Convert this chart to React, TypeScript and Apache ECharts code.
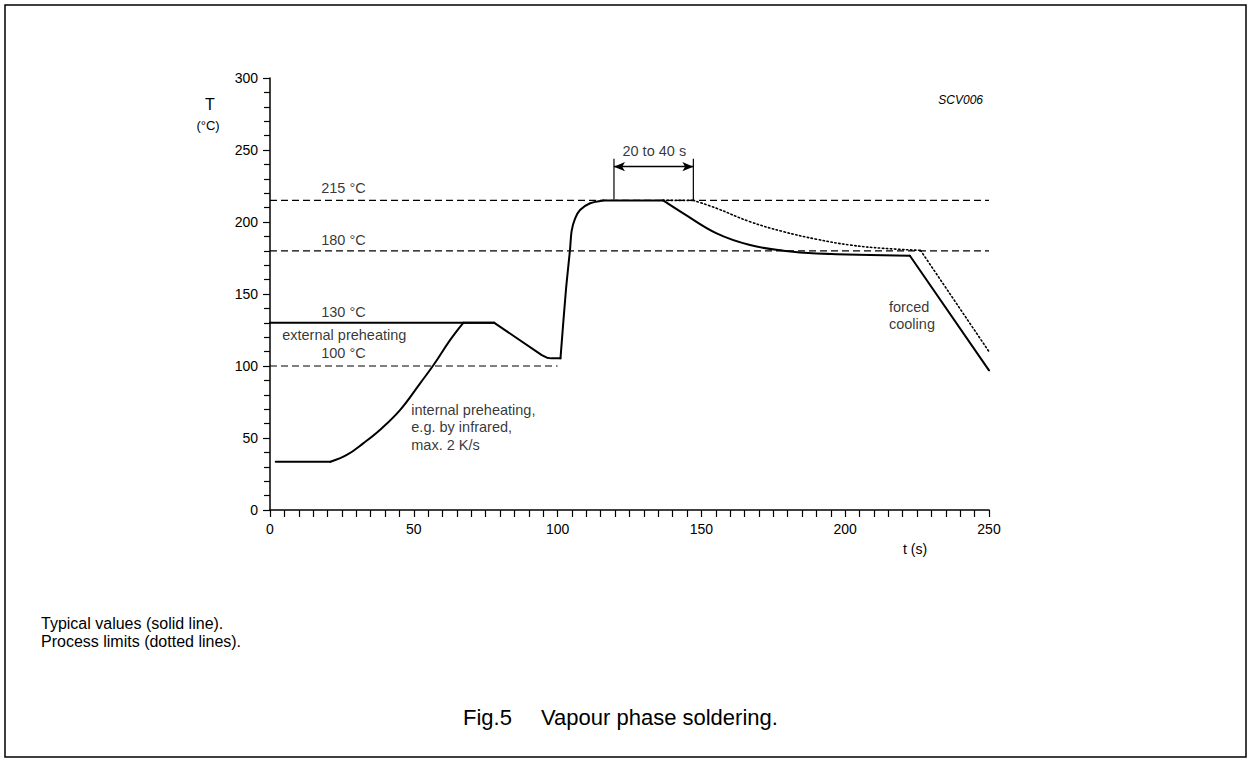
import React, { useEffect, useRef } from "react";
import * as echarts from "echarts";

const FONT = "'Liberation Sans', Arial, Helvetica, sans-serif";

// Typical (solid) profile, split into pieces: [t (s), T (°C)]
const preheatFlat: number[][] = [[2, 33.5], [21, 33.5]];
const preheatRise: number[][] = [
  [21, 33.5], [26.7, 38.2], [32.4, 46.3], [38.2, 55.6], [45.2, 69.4],
  [52.2, 88], [56.8, 100.5], [62.6, 118], [67.2, 130],
];
const preheatHold: number[][] = [
  [67.2, 130], [78, 130], [94.5, 107.6], [96.3, 105.8], [97.8, 105.3], [101, 105.3],
];
const reflowRise: number[][] = [
  [101, 105.3], [102.9, 152.8], [104.3, 180.5], [104.9, 194], [106.1, 202.5],
  [107.8, 208.3], [111.3, 213], [115.9, 215],
];
const peakHold: number[][] = [[115.9, 215], [136.7, 215]];
const coolDown: number[][] = [
  [136.7, 215], [143.7, 206], [155.3, 192.1], [166.9, 184], [178.5, 180.1],
  [190.1, 178.2], [222.5, 176.6],
];
const forcedCooling: number[][] = [[222.5, 176.6], [250, 97]];

// Process limit (dotted) profile
const limitHold: number[][] = [[136.7, 215], [147.2, 215]];
const limitCool: number[][] = [
  [147.2, 215], [155.3, 209.5], [166.9, 200.2], [178.5, 193.3], [190.1, 188],
  [201.7, 184], [213.3, 181.7], [226.2, 180.3],
];
const limitForced: number[][] = [[226.2, 180.3], [250, 110]];

// External preheating level
const externalPreheat: number[][] = [[0, 130], [78, 130]];

// Reference levels (dashed)
const level215: number[][] = [[0, 215], [250, 215]];
const level180: number[][] = [[0, 180], [250, 180]];
const level100: number[][] = [[0, 100], [100, 100]];

// "20 to 40 s" bracket
const bracketLeft: number[][] = [[119.6, 215.8], [119.6, 244]];
const bracketRight: number[][] = [[147.2, 215], [147.2, 244]];
const bracketArrow: number[][] = [[119.6, 238.4], [147.2, 238.4]];

// In-plot annotations: text, anchor [t, T], alignment
const annotations: { text: string; at: number[]; align: string }[] = [
  { text: "215 °C", at: [25.7, 223], align: "center" },
  { text: "180 °C", at: [25.7, 187.5], align: "center" },
  { text: "130 °C", at: [25.7, 137.5], align: "center" },
  { text: "external preheating", at: [26, 121.5], align: "center" },
  { text: "100 °C", at: [25.7, 108.8], align: "center" },
  { text: "internal preheating,\ne.g. by infrared,\nmax. 2 K/s", at: [49.3, 57], align: "left" },
  { text: "forced\ncooling", at: [215.4, 134.7], align: "left" },
  { text: "20 to 40 s", at: [133.8, 248.8], align: "center" },
];

const xTicks = [0, 50, 100, 150, 200, 250];
const yTicks = [0, 50, 100, 150, 200, 250, 300];

export default function App() {
  const ref = useRef<HTMLDivElement>(null);

  useEffect(() => {
    if (!ref.current) return;
    const chart = echarts.init(ref.current, undefined, { renderer: "svg" });

    const dashed = (data: number[][]) => ({
      type: "line",
      data,
      symbol: "none",
      silent: true,
      z: 1,
      lineStyle: { color: "#000", width: 1.2, type: [7, 4] },
    });
    const thin = (data: number[][]) => ({
      type: "line",
      data,
      symbol: "none",
      silent: true,
      z: 2,
      lineStyle: { color: "#000", width: 1.2, type: "solid" },
    });
    const solid = (data: number[][], smooth: number) => ({
      type: "line",
      data,
      symbol: "none",
      silent: true,
      z: 3,
      smooth,
      lineStyle: { color: "#000", width: 2, type: "solid", join: "round", cap: "round" },
    });
    const dotted = (data: number[][], smooth: number) => ({
      type: "line",
      data,
      symbol: "none",
      silent: true,
      z: 2,
      smooth,
      lineStyle: { color: "#000", width: 1.6, type: [1.4, 2.6], cap: "round" },
    });

    chart.setOption({
      animation: false,
      backgroundColor: "#fff",
      grid: { left: 270, top: 78, width: 719, height: 432, containLabel: false },
      xAxis: {
        type: "value",
        min: xTicks[0],
        max: xTicks[xTicks.length - 1],
        interval: 50,
        axisLine: { show: true, lineStyle: { color: "#000", width: 1.5 } },
        axisTick: { show: true, length: 7, lineStyle: { color: "#000", width: 1.2 } },
        minorTick: { show: true, splitNumber: 10, length: 7, lineStyle: { color: "#000", width: 1.2 } },
        splitLine: { show: false },
        axisLabel: { color: "#000", fontSize: 14, fontFamily: FONT, margin: 12 },
      },
      yAxis: {
        type: "value",
        min: yTicks[0],
        max: yTicks[yTicks.length - 1],
        interval: 50,
        axisLine: { show: true, lineStyle: { color: "#000", width: 1.5 } },
        axisTick: { show: true, length: 7, lineStyle: { color: "#000", width: 1.2 } },
        minorTick: { show: true, splitNumber: 5, length: 6, lineStyle: { color: "#000", width: 1.2 } },
        splitLine: { show: false },
        axisLabel: { color: "#000", fontSize: 14, fontFamily: FONT, margin: 12 },
      },
      series: [
        dashed(level215),
        dashed(level180),
        dashed(level100),
        dotted(limitHold, 0),
        dotted(limitCool, 0.4),
        dotted(limitForced, 0),
        solid(externalPreheat, 0),
        solid(preheatFlat, 0),
        solid(preheatRise, 0.4),
        solid(preheatHold, 0),
        solid(reflowRise, 0.3),
        solid(peakHold, 0),
        solid(coolDown, 0.4),
        solid(forcedCooling, 0),
        thin(bracketLeft),
        thin(bracketRight),
        {
          type: "line",
          data: [],
          symbol: "none",
          silent: true,
          markLine: {
            silent: true,
            animation: false,
            symbol: ["arrow", "arrow"],
            symbolSize: [7, 11],
            label: { show: false },
            lineStyle: { color: "#000", width: 1.4, type: "solid" },
            data: [[{ coord: bracketArrow[0] }, { coord: bracketArrow[1] }]],
          },
        },
        {
          type: "scatter",
          silent: true,
          symbolSize: 1,
          itemStyle: { color: "rgba(0,0,0,0)" },
          z: 5,
          data: annotations.map((a) => ({
            value: a.at,
            label: {
              show: true,
              position: [0, 0],
              formatter: a.text,
              align: a.align,
              verticalAlign: "middle",
              color: "#000",
              fontSize: 14.5,
              lineHeight: 17.5,
              fontFamily: FONT,
            },
          })),
        },
      ],
      graphic: [
        {
          type: "rect",
          shape: { x: 5, y: 5, width: 1241, height: 752 },
          style: { fill: "none", stroke: "#000", lineWidth: 1.5 },
          silent: true,
        },
        {
          type: "text",
          x: 210,
          y: 104,
          style: { text: "T", fill: "#000", font: `16px ${FONT}`, textAlign: "center", textVerticalAlign: "middle" },
        },
        {
          type: "text",
          x: 208,
          y: 125,
          style: { text: "(°C)", fill: "#000", font: `13px ${FONT}`, textAlign: "center", textVerticalAlign: "middle" },
        },
        {
          type: "text",
          x: 983,
          y: 100,
          style: { text: "SCV006", fill: "#000", font: `italic 12px ${FONT}`, textAlign: "right", textVerticalAlign: "middle" },
        },
        {
          type: "text",
          x: 915,
          y: 549,
          style: { text: "t (s)", fill: "#000", font: `14px ${FONT}`, textAlign: "center", textVerticalAlign: "middle" },
        },
        {
          type: "text",
          x: 41,
          y: 623,
          style: { text: "Typical values (solid line).", fill: "#000", font: `16px ${FONT}`, textAlign: "left", textVerticalAlign: "middle" },
        },
        {
          type: "text",
          x: 41,
          y: 641,
          style: { text: "Process limits (dotted lines).", fill: "#000", font: `16px ${FONT}`, textAlign: "left", textVerticalAlign: "middle" },
        },
        {
          type: "text",
          x: 463,
          y: 717,
          style: { text: "Fig.5", fill: "#000", font: `22px ${FONT}`, textAlign: "left", textVerticalAlign: "middle" },
        },
        {
          type: "text",
          x: 541,
          y: 717,
          style: { text: "Vapour phase soldering.", fill: "#000", font: `22px ${FONT}`, textAlign: "left", textVerticalAlign: "middle" },
        },
      ],
    });

    return () => chart.dispose();
  }, []);

  return (
    <div
      ref={ref}
      style={{ position: "absolute", left: 0, top: 0, width: 1251, height: 761, background: "#fff" }}
    />
  );
}
